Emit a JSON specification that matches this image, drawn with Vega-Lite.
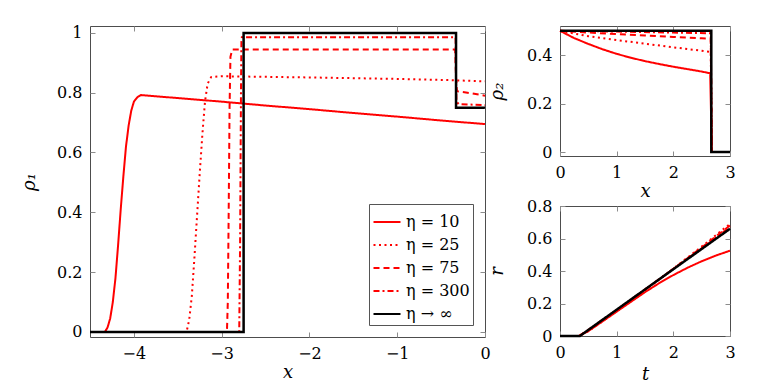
{
"$schema": "https://vega.github.io/schema/vega-lite/v6.json",
"padding": {"left": 20, "top": 24, "right": 5, "bottom": 5},
"datasets": {
"rho1": [
{"s":"η = 10","x":-4.5,"y":0},{"s":"η = 10","x":-4.33,"y":0},{"s":"η = 10","x":-4.3,"y":0.015},{"s":"η = 10","x":-4.27,"y":0.045},{"s":"η = 10","x":-4.24,"y":0.1},{"s":"η = 10","x":-4.21,"y":0.18},{"s":"η = 10","x":-4.18,"y":0.29},{"s":"η = 10","x":-4.15,"y":0.41},{"s":"η = 10","x":-4.12,"y":0.52},{"s":"η = 10","x":-4.09,"y":0.62},{"s":"η = 10","x":-4.06,"y":0.69},{"s":"η = 10","x":-4.03,"y":0.74},{"s":"η = 10","x":-4.0,"y":0.77},{"s":"η = 10","x":-3.96,"y":0.785},{"s":"η = 10","x":-3.92,"y":0.792},{"s":"η = 10","x":-3.5,"y":0.782},{"s":"η = 10","x":-3,"y":0.77},{"s":"η = 10","x":-2.5,"y":0.757},{"s":"η = 10","x":-2,"y":0.745},{"s":"η = 10","x":-1.5,"y":0.732},{"s":"η = 10","x":-1,"y":0.72},{"s":"η = 10","x":-0.5,"y":0.707},{"s":"η = 10","x":0,"y":0.695},
{"s":"η = 25","x":-4.5,"y":0},{"s":"η = 25","x":-3.4,"y":0},{"s":"η = 25","x":-3.37,"y":0.04},{"s":"η = 25","x":-3.34,"y":0.12},{"s":"η = 25","x":-3.31,"y":0.25},{"s":"η = 25","x":-3.28,"y":0.39},{"s":"η = 25","x":-3.25,"y":0.53},{"s":"η = 25","x":-3.22,"y":0.66},{"s":"η = 25","x":-3.19,"y":0.77},{"s":"η = 25","x":-3.16,"y":0.83},{"s":"η = 25","x":-3.12,"y":0.852},{"s":"η = 25","x":-3.0,"y":0.855},{"s":"η = 25","x":-2,"y":0.851},{"s":"η = 25","x":-1,"y":0.846},{"s":"η = 25","x":-0.4,"y":0.842},{"s":"η = 25","x":0,"y":0.838},
{"s":"η = 75","x":-4.5,"y":0},{"s":"η = 75","x":-2.94,"y":0},{"s":"η = 75","x":-2.93,"y":0.1},{"s":"η = 75","x":-2.92,"y":0.4},{"s":"η = 75","x":-2.91,"y":0.75},{"s":"η = 75","x":-2.9,"y":0.92},{"s":"η = 75","x":-2.88,"y":0.944},{"s":"η = 75","x":-0.34,"y":0.944},{"s":"η = 75","x":-0.33,"y":0.85},{"s":"η = 75","x":-0.32,"y":0.805},{"s":"η = 75","x":-0.2,"y":0.8},{"s":"η = 75","x":0,"y":0.79},
{"s":"η = 300","x":-4.5,"y":0},{"s":"η = 300","x":-2.8,"y":0},{"s":"η = 300","x":-2.79,"y":0.3},{"s":"η = 300","x":-2.78,"y":0.8},{"s":"η = 300","x":-2.775,"y":0.97},{"s":"η = 300","x":-2.77,"y":0.985},{"s":"η = 300","x":-0.335,"y":0.985},{"s":"η = 300","x":-0.33,"y":0.85},{"s":"η = 300","x":-0.325,"y":0.77},{"s":"η = 300","x":-0.3,"y":0.762},{"s":"η = 300","x":0,"y":0.758},
{"s":"η → ∞","x":-4.5,"y":0},{"s":"η → ∞","x":-2.75,"y":0},{"s":"η → ∞","x":-2.75,"y":1},{"s":"η → ∞","x":-0.33,"y":1},{"s":"η → ∞","x":-0.33,"y":0.75},{"s":"η → ∞","x":0,"y":0.75}
],
"rho2": [
{"s":"η = 10","x":0,"y":0.5},{"s":"η = 10","x":0.25,"y":0.47},{"s":"η = 10","x":0.5,"y":0.446},{"s":"η = 10","x":0.75,"y":0.424},{"s":"η = 10","x":1,"y":0.405},{"s":"η = 10","x":1.25,"y":0.389},{"s":"η = 10","x":1.5,"y":0.375},{"s":"η = 10","x":1.75,"y":0.363},{"s":"η = 10","x":2,"y":0.352},{"s":"η = 10","x":2.25,"y":0.342},{"s":"η = 10","x":2.5,"y":0.332},{"s":"η = 10","x":2.65,"y":0.325},{"s":"η = 10","x":2.68,"y":0},{"s":"η = 10","x":3,"y":0},
{"s":"η = 25","x":0,"y":0.5},{"s":"η = 25","x":0.5,"y":0.478},{"s":"η = 25","x":1,"y":0.462},{"s":"η = 25","x":1.5,"y":0.447},{"s":"η = 25","x":2,"y":0.432},{"s":"η = 25","x":2.5,"y":0.418},{"s":"η = 25","x":2.66,"y":0.413},{"s":"η = 25","x":2.68,"y":0},{"s":"η = 25","x":3,"y":0},
{"s":"η = 75","x":0,"y":0.5},{"s":"η = 75","x":0.5,"y":0.493},{"s":"η = 75","x":1,"y":0.487},{"s":"η = 75","x":1.5,"y":0.481},{"s":"η = 75","x":2,"y":0.475},{"s":"η = 75","x":2.5,"y":0.469},{"s":"η = 75","x":2.66,"y":0.467},{"s":"η = 75","x":2.68,"y":0},{"s":"η = 75","x":3,"y":0},
{"s":"η = 300","x":0,"y":0.5},{"s":"η = 300","x":1,"y":0.497},{"s":"η = 300","x":2,"y":0.493},{"s":"η = 300","x":2.66,"y":0.49},{"s":"η = 300","x":2.68,"y":0},{"s":"η = 300","x":3,"y":0},
{"s":"η → ∞","x":0,"y":0.5},{"s":"η → ∞","x":2.67,"y":0.5},{"s":"η → ∞","x":2.67,"y":0},{"s":"η → ∞","x":3,"y":0}
],
"r": [
{"s":"η = 10","x":0,"y":0},{"s":"η = 10","x":0.33,"y":0},{"s":"η = 10","x":0.5,"y":0.03},{"s":"η = 10","x":0.75,"y":0.09},{"s":"η = 10","x":1,"y":0.15},{"s":"η = 10","x":1.25,"y":0.21},{"s":"η = 10","x":1.5,"y":0.27},{"s":"η = 10","x":1.75,"y":0.325},{"s":"η = 10","x":2,"y":0.375},{"s":"η = 10","x":2.25,"y":0.42},{"s":"η = 10","x":2.5,"y":0.46},{"s":"η = 10","x":2.75,"y":0.495},{"s":"η = 10","x":3,"y":0.525},
{"s":"η = 25","x":0,"y":0},{"s":"η = 25","x":0.33,"y":0},{"s":"η = 25","x":0.5,"y":0.03},{"s":"η = 25","x":0.75,"y":0.09},{"s":"η = 25","x":1,"y":0.152},{"s":"η = 25","x":1.5,"y":0.28},{"s":"η = 25","x":2,"y":0.415},{"s":"η = 25","x":2.5,"y":0.55},{"s":"η = 25","x":3,"y":0.69},
{"s":"η = 75","x":0,"y":0},{"s":"η = 75","x":0.33,"y":0},{"s":"η = 75","x":0.5,"y":0.035},{"s":"η = 75","x":0.75,"y":0.095},{"s":"η = 75","x":1,"y":0.158},{"s":"η = 75","x":1.5,"y":0.285},{"s":"η = 75","x":2,"y":0.413},{"s":"η = 75","x":2.5,"y":0.545},{"s":"η = 75","x":3,"y":0.68},
{"s":"η = 300","x":0,"y":0},{"s":"η = 300","x":0.34,"y":0},{"s":"η = 300","x":0.5,"y":0.038},{"s":"η = 300","x":1,"y":0.16},{"s":"η = 300","x":1.5,"y":0.287},{"s":"η = 300","x":2,"y":0.413},{"s":"η = 300","x":2.5,"y":0.54},{"s":"η = 300","x":3,"y":0.67},
{"s":"η → ∞","x":0,"y":0},{"s":"η → ∞","x":0.35,"y":0},{"s":"η → ∞","x":3,"y":0.66}
]
},
"config": {
"font": "DejaVu Serif",
"view": {"stroke": "#4d4d4d", "strokeWidth": 1},
"axis": {"domain": false, "grid": false, "tickSize": -5, "tickColor": "#8c8c8c", "labelFont": "DejaVu Serif", "labelFontSize": 16, "labelColor": "#000", "labelPadding": 13, "titleFont": "DejaVu Serif", "titleFontSize": 18, "titleFontStyle": "italic", "titleFontWeight": "normal", "titleColor": "#000", "labelFlush": false, "labelOverlap": false, "format": "~g"},
"axisX": {"titlePadding": 2},
"axisY": {"titlePadding": 18},
"legend": {"orient": "bottom-right", "offset": 12, "strokeColor": "#555", "fillColor": "#fff", "padding": 3, "labelFont": "DejaVu Serif", "labelFontSize": 16, "labelColor": "#000", "symbolType": "stroke", "symbolSize": 729, "symbolStrokeWidth": 2.2, "rowPadding": -5, "labelOffset": 4, "cornerRadius": 0}
},
"resolve": {"scale": {"color": "independent", "strokeDash": "independent"}, "legend": {"color": "independent", "strokeDash": "independent"}},
"spacing": -3,
"hconcat": [
{
"width": 395, "height": 311,
"data": {"name": "rho1"},
"layer": [
{"transform": [{"filter": "datum.s != 'η → ∞'"}],
 "mark": {"type": "line", "strokeWidth": 2, "clip": true},
 "encoding": {
  "x": {"field": "x", "type": "quantitative", "scale": {"domain": [-4.5, 0], "nice": false, "zero": false}, "axis": {"orient": "bottom", "values": [-4, -3, -2, -1, 0], "title": "x"}},
  "y": {"field": "y", "type": "quantitative", "scale": {"domain": [-0.017, 1.023], "nice": false, "zero": false}, "axis": {"orient": "left", "values": [0, 0.2, 0.4, 0.6, 0.8, 1], "title": "ρ₁"}},
  "color": {"field": "s", "type": "nominal", "scale": {"domain": ["η = 10", "η = 25", "η = 75", "η = 300", "η → ∞"], "range": ["#ff0000", "#ff0000", "#ff0000", "#ff0000", "#000000"]}, "legend": {"title": null}},
  "strokeDash": {"field": "s", "type": "nominal", "scale": {"domain": ["η = 10", "η = 25", "η = 75", "η = 300", "η → ∞"], "range": [[1, 0], [2, 3.5], [6, 4], [6, 3, 2, 3], [1, 0]]}, "legend": {"title": null}},
  "order": {"value": null}
 }},
{"transform": [{"filter": "datum.s == 'η → ∞'"}],
 "mark": {"type": "line", "strokeWidth": 2.5, "clip": true},
 "encoding": {
  "x": {"field": "x", "type": "quantitative", "axis": {"orient": "top", "values": [-4, -3, -2, -1, 0], "labels": false, "title": null}},
  "y": {"field": "y", "type": "quantitative", "axis": {"orient": "right", "values": [0, 0.2, 0.4, 0.6, 0.8, 1], "labels": false, "title": null}},
  "color": {"field": "s", "type": "nominal", "scale": {"domain": ["η = 10", "η = 25", "η = 75", "η = 300", "η → ∞"], "range": ["#ff0000", "#ff0000", "#ff0000", "#ff0000", "#000000"]}, "legend": {"title": null}},
  "strokeDash": {"field": "s", "type": "nominal", "scale": {"domain": ["η = 10", "η = 25", "η = 75", "η = 300", "η → ∞"], "range": [[1, 0], [2, 3.5], [6, 4], [6, 3, 2, 3], [1, 0]]}, "legend": {"title": null}},
  "order": {"value": null}
 }}
]
},
{
"spacing": -4,
"vconcat": [
{
"width": 170, "height": 130,
"data": {"name": "rho2"},
"layer": [
{"transform": [{"filter": "datum.s != 'η → ∞'"}],
 "mark": {"type": "line", "strokeWidth": 2, "clip": false},
 "encoding": {
  "x": {"field": "x", "type": "quantitative", "scale": {"domain": [0, 3], "nice": false, "zero": false}, "axis": {"orient": "bottom", "values": [0, 1, 2, 3], "title": "x"}},
  "y": {"field": "y", "type": "quantitative", "scale": {"domain": [-0.0165, 0.52], "nice": false, "zero": false}, "axis": {"orient": "left", "values": [0, 0.2, 0.4], "title": "ρ₂", "titlePadding": 20}},
  "color": {"field": "s", "type": "nominal", "scale": {"domain": ["η = 10", "η = 25", "η = 75", "η = 300", "η → ∞"], "range": ["#ff0000", "#ff0000", "#ff0000", "#ff0000", "#000000"]}, "legend": null},
  "strokeDash": {"field": "s", "type": "nominal", "scale": {"domain": ["η = 10", "η = 25", "η = 75", "η = 300", "η → ∞"], "range": [[1, 0], [2, 3.5], [6, 4], [6, 3, 2, 3], [1, 0]]}, "legend": null},
  "order": {"value": null}
 }},
{"transform": [{"filter": "datum.s == 'η → ∞'"}],
 "mark": {"type": "line", "strokeWidth": 2.5, "clip": false},
 "encoding": {
  "x": {"field": "x", "type": "quantitative", "axis": {"orient": "top", "values": [0, 1, 2, 3], "labels": false, "title": null}},
  "y": {"field": "y", "type": "quantitative", "axis": {"orient": "right", "values": [0, 0.2, 0.4], "labels": false, "title": null}},
  "color": {"field": "s", "type": "nominal", "scale": {"domain": ["η = 10", "η = 25", "η = 75", "η = 300", "η → ∞"], "range": ["#ff0000", "#ff0000", "#ff0000", "#ff0000", "#000000"]}, "legend": null},
  "strokeDash": {"field": "s", "type": "nominal", "scale": {"domain": ["η = 10", "η = 25", "η = 75", "η = 300", "η → ∞"], "range": [[1, 0], [2, 3.5], [6, 4], [6, 3, 2, 3], [1, 0]]}, "legend": null},
  "order": {"value": null}
 }}
]
},
{
"width": 170, "height": 130,
"data": {"name": "r"},
"layer": [
{"transform": [{"filter": "datum.s != 'η → ∞'"}],
 "mark": {"type": "line", "strokeWidth": 2, "clip": false},
 "encoding": {
  "x": {"field": "x", "type": "quantitative", "scale": {"domain": [0, 3], "nice": false, "zero": false}, "axis": {"orient": "bottom", "values": [0, 1, 2, 3], "title": "t", "titlePadding": 5}},
  "y": {"field": "y", "type": "quantitative", "scale": {"domain": [0, 0.8], "nice": false, "zero": false}, "axis": {"orient": "left", "values": [0, 0.2, 0.4, 0.6, 0.8], "title": "r", "titlePadding": 20}},
  "color": {"field": "s", "type": "nominal", "scale": {"domain": ["η = 10", "η = 25", "η = 75", "η = 300", "η → ∞"], "range": ["#ff0000", "#ff0000", "#ff0000", "#ff0000", "#000000"]}, "legend": null},
  "strokeDash": {"field": "s", "type": "nominal", "scale": {"domain": ["η = 10", "η = 25", "η = 75", "η = 300", "η → ∞"], "range": [[1, 0], [2, 3.5], [6, 4], [6, 3, 2, 3], [1, 0]]}, "legend": null},
  "order": {"value": null}
 }},
{"transform": [{"filter": "datum.s == 'η → ∞'"}],
 "mark": {"type": "line", "strokeWidth": 2.5, "clip": false},
 "encoding": {
  "x": {"field": "x", "type": "quantitative", "axis": {"orient": "top", "values": [0, 1, 2, 3], "labels": false, "title": null}},
  "y": {"field": "y", "type": "quantitative", "axis": {"orient": "right", "values": [0, 0.2, 0.4, 0.6, 0.8], "labels": false, "title": null}},
  "color": {"field": "s", "type": "nominal", "scale": {"domain": ["η = 10", "η = 25", "η = 75", "η = 300", "η → ∞"], "range": ["#ff0000", "#ff0000", "#ff0000", "#ff0000", "#000000"]}, "legend": null},
  "strokeDash": {"field": "s", "type": "nominal", "scale": {"domain": ["η = 10", "η = 25", "η = 75", "η = 300", "η → ∞"], "range": [[1, 0], [2, 3.5], [6, 4], [6, 3, 2, 3], [1, 0]]}, "legend": null},
  "order": {"value": null}
 }}
]
}
]
}
]
}
